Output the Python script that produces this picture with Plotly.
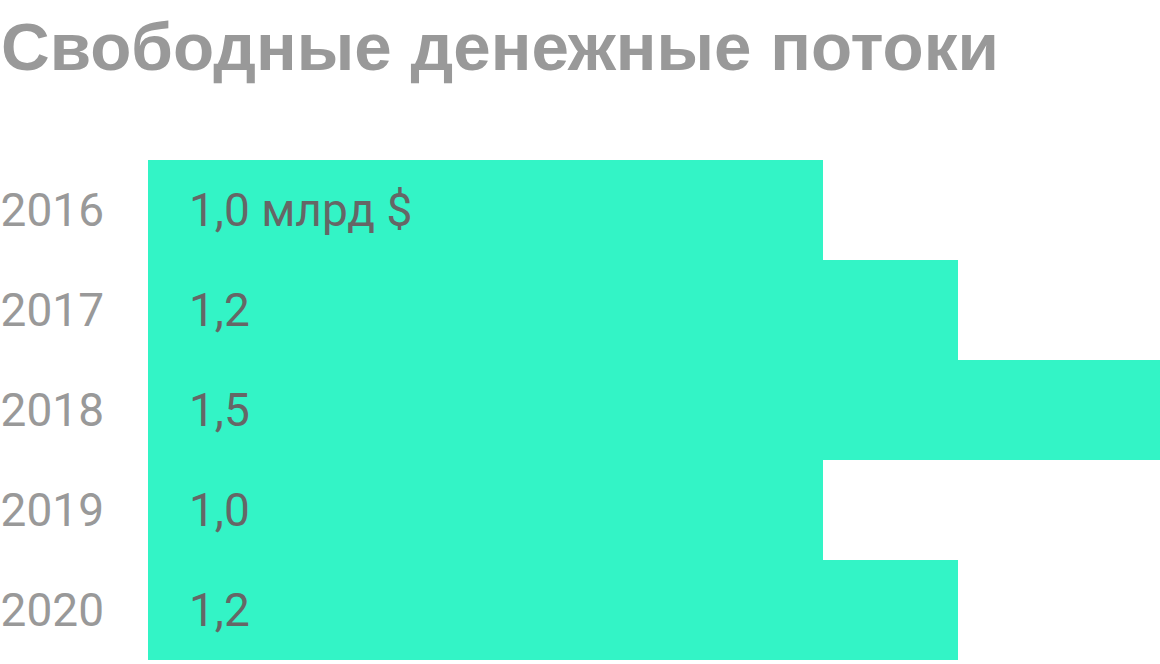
import plotly.graph_objects as go

years = ["2016", "2017", "2018", "2019", "2020"]
values = [1.0, 1.2, 1.5, 1.0, 1.2]
labels = ["1,0 млрд $", "1,2", "1,5", "1,0", "1,2"]
title = "Свободные денежные потоки"

BAR = "#33F4C6"

fig = go.Figure(go.Bar(
    x=values, y=years, orientation="h",
    marker=dict(color=BAR, line=dict(width=0)),
    hoverinfo="skip",
))

# annotations on a category axis are placed by category index
for i, lab in enumerate(labels):
    fig.add_annotation(
        x=0, y=i, xref="x", yref="y", text=lab, showarrow=False,
        xanchor="left", yanchor="middle", xshift=39,
        font=dict(family="Roboto", size=46, color="#666666"),
    )

fig.add_annotation(
    x=0, y=1, xref="paper", yref="paper", xanchor="left", yanchor="bottom",
    xshift=-149, yshift=74, text=title, showarrow=False,
    font=dict(family="Liberation Sans", size=67.4, color="#999999", weight="bold"),
)

fig.update_layout(
    width=1160, height=664,
    margin=dict(l=148, r=0, t=160, b=4, pad=0, autoexpand=False),
    paper_bgcolor="white", plot_bgcolor="white",
    bargap=0, showlegend=False,
    xaxis=dict(range=[0, 1.5], visible=False, fixedrange=True),
    yaxis=dict(type="category", range=[len(years) - 0.5, -0.5],
               showgrid=False, zeroline=False,
               showline=False, automargin=False, fixedrange=True,
               ticks="", ticklabelstandoff=43,
               tickfont=dict(family="Roboto", size=46, color="#999999")),
)

fig.write_html("out.html", config={"displayModeBar": False},
               post_script="document.body.style.margin='0';document.body.style.overflow='hidden';")
